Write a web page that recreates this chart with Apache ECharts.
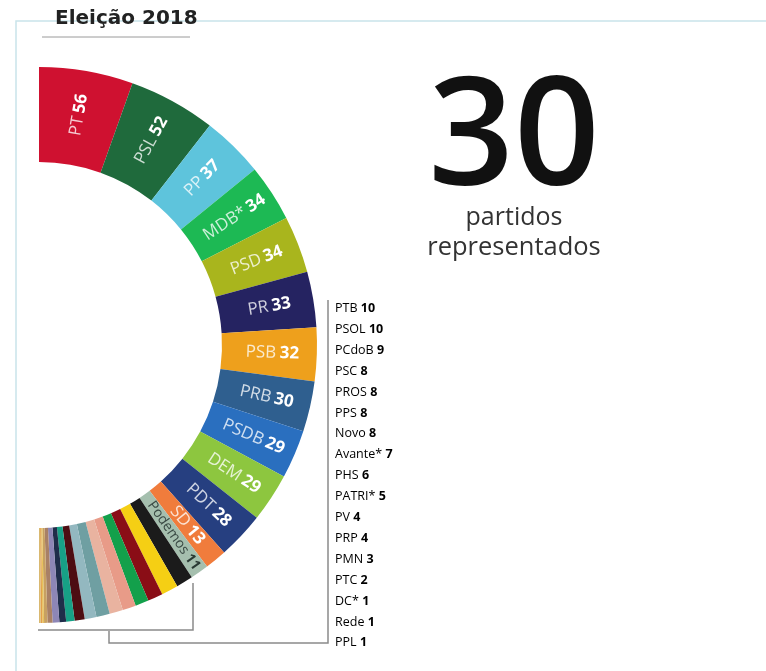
<!DOCTYPE html>
<html>
<head>
<meta charset="utf-8">
<script src="https://cdn.jsdelivr.net/npm/echarts@6/dist/echarts.min.js"></script>
<style>
html,body{margin:0;padding:0;background:#fff;}
#chart{width:766px;height:671px;}
</style>
</head>
<body>
<div id="chart"></div>
<script>
// ---- data ----
const parties = ['PT','PSL','PP','MDB*','PSD','PR','PSB','PRB','PSDB','DEM','PDT','SD','Podemos','PTB','PSOL','PCdoB','PSC','PROS','PPS','Novo','Avante*','PHS','PATRI*','PV','PRP','PMN','PTC','DC*','Rede','PPL'];
const seats = [56,52,37,34,34,33,32,30,29,29,28,13,11,10,10,9,8,8,8,8,7,6,5,4,4,3,2,1,1,1];
const colors = ['#cf1130','#1f6a3c','#5ec4dc','#1db954','#a9b51d','#252361','#eea01c','#2f5f8f','#2a6fbf','#8dc63f','#263f80','#f07c3c','#a5bfae',
  '#1b1b1b','#f5cf14','#8a0d16','#13a04b','#e89b88','#e9b3a0','#6f9fa2','#93b8c0','#4d0d12','#17a086','#1f2d4a','#8d86b6','#a88066','#c7a062','#e6c25c','#e3a14a','#d9b870'];
const labeledCount = 13; // slices labelled on the ring; the rest are listed
const titleText = 'Eleição 2018';
const bigCaption = ['partidos', 'representados'];

const chart = echarts.init(document.getElementById('chart'), null, {renderer: 'canvas'});

const pieData = parties.map((p, i) => ({
  name: p,
  value: seats[i],
  itemStyle: {color: colors[i]},
  label: {show: i < labeledCount, rich: i === 12 ? {n: {color: '#3a4a44', fontSize: 14, fontFamily: 'Open Sans'}, v: {color: '#2a3a34', fontWeight: 'bold', fontSize: 14, fontFamily: 'Open Sans'}} : undefined}
}));

const listStartY = 310, listStep = 20.9;
const listItems = [];
for (let i = labeledCount; i < parties.length; i++) {
  const k = i - labeledCount;
  listItems.push({
    type: 'text',
    left: 335,
    top: listStartY + k * listStep - 8,
    style: {
      text: '{n|' + parties[i] + '} {v|' + seats[i] + '}',
      rich: {
        n: {fontSize: 12.5, fontFamily: 'Open Sans', color: '#555'},
        v: {fontSize: 12.5, fontFamily: 'Open Sans', fontWeight: 'bold', color: '#222'}
      }
    }
  });
}

const option = {
  backgroundColor: '#ffffff',
  animation: false,
  series: [{
    type: 'pie',
    center: [39, 345],
    radius: [183, 278],
    startAngle: 90,
    endAngle: -90,
    clockwise: true,
    avoidLabelOverlap: false,
    silent: true,
    label: {
      show: true,
      position: 'inside',
      rotate: 'radial',
      formatter: p => '{n|' + p.name + '} {v|' + p.value + '}',
      rich: {
        n: {color: 'rgba(255,255,255,0.78)', fontSize: 17, fontFamily: 'Open Sans'},
        v: {color: '#ffffff', fontSize: 17, fontWeight: 'bold', fontFamily: 'Open Sans'}
      }
    },
    labelLine: {show: false},
    data: pieData
  }],
  graphic: [
    // frame
    {type: 'polyline', shape: {points: [[16, 671], [16, 21], [766, 21]]}, style: {stroke: '#c9e4ea', lineWidth: 1.5, fill: null}, z: 0},
    // title
    {type: 'text', x: 55, y: 19, style: {text: titleText, fontSize: 20, fontWeight: 'bold', fontFamily: 'DejaVu Sans', fill: '#222', verticalAlign: 'middle'}, z: 10},
    {type: 'line', shape: {x1: 42, y1: 37, x2: 190, y2: 37}, style: {stroke: '#9a9a9a', lineWidth: 1}},
    // big number
    {type: 'text', x: 514, y: 142, style: {text: String(parties.length), fontSize: 150, fontWeight: 600, fontFamily: 'Open Sans', fill: '#111', align: 'center', verticalAlign: 'middle'}},
    {type: 'text', x: 514, y: 218, style: {text: bigCaption[0], fontSize: 25, fontFamily: 'Open Sans', fill: '#333', align: 'center', verticalAlign: 'middle'}},
    {type: 'text', x: 514, y: 248, style: {text: bigCaption[1], fontSize: 25.5, fontFamily: 'Open Sans', fill: '#333', align: 'center', verticalAlign: 'middle'}},
    // brackets
    {type: 'polyline', shape: {points: [[38, 630], [193, 630], [193, 583]]}, style: {stroke: '#8a8a8a', lineWidth: 1.5, fill: null}},
    {type: 'polyline', shape: {points: [[109, 631], [109, 643], [328, 643], [328, 300]]}, style: {stroke: '#8a8a8a', lineWidth: 1.5, fill: null}}
  ].concat(listItems)
};
chart.setOption(option);
</script>
</body>
</html>
